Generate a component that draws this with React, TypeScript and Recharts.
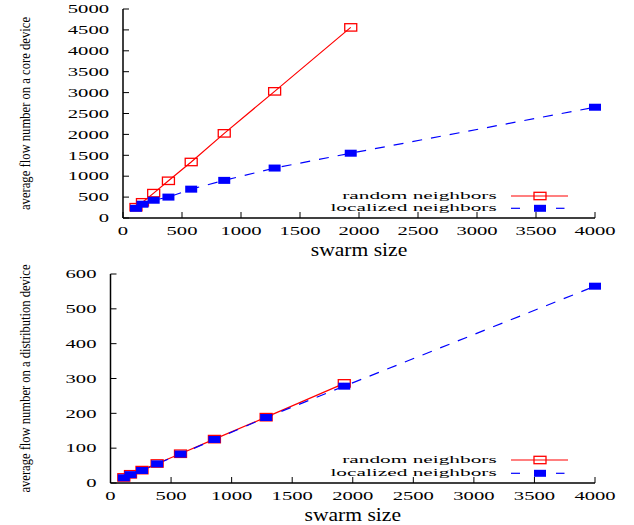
import React from 'react';
import { LineChart, Line, XAxis, YAxis, Legend, Label } from 'recharts';

const swarmSize = [110, 165, 260, 385, 578, 858, 1285, 1930, 4000];
const coreRandom = [258, 375, 595, 890, 1340, 2025, 3030, 4560];
const coreLocalized = [232, 330, 425, 500, 690, 900, 1195, 1550, 2650];
const distRandom = [16, 25, 37, 56, 84, 126, 189, 286];
const distLocalized = [15, 24, 36, 55, 83, 125, 188, 278, 565];

const sizeTicks = [0, 500, 1000, 1500, 2000, 2500, 3000, 3500, 4000];
const coreTicks = [0, 500, 1000, 1500, 2000, 2500, 3000, 3500, 4000, 4500, 5000];
const distTicks = [0, 100, 200, 300, 400, 500, 600];

const coreTitle = 'average flow number on a core device';
const distTitle = 'average flow number on a distribution device';
const xTitle = 'swarm size';
const randomName = 'random neighbors';
const localizedName = 'localized neighbors';

const coreData = swarmSize.map((s, i) => ({
  size: s,
  random: coreRandom[i] ?? null,
  localized: coreLocalized[i] ?? null,
}));
const distData = swarmSize.map((s, i) => ({
  size: s,
  random: distRandom[i] ?? null,
  localized: distLocalized[i] ?? null,
}));

const FONT = 'Liberation Serif';
const RED = '#ff0000';
const BLUE = '#0000ff';

const XTick = (props: any) => {
  const { x, y, payload } = props;
  return (
    <text
      transform={`translate(${x},${y + 17}) scale(1.65,1)`}
      textAnchor="middle"
      fontFamily={FONT}
      fontSize={12.5}
      fill="#000"
    >
      {payload.value}
    </text>
  );
};

const YTick = (props: any) => {
  const { x, y, payload } = props;
  return (
    <text
      transform={`translate(${x},${y + 4.2}) scale(1.65,1)`}
      textAnchor="end"
      fontFamily={FONT}
      fontSize={12.5}
      fill="#000"
    >
      {payload.value}
    </text>
  );
};

const OpenSquare = (props: any) => {
  const { cx, cy, index } = props;
  if (cx == null || cy == null) return <g key={`o${index}`} />;
  return (
    <rect key={`o${index}`} x={cx - 6} y={cy - 3.7} width={12} height={7.4} fill="none" stroke={RED} strokeWidth={1.3} />
  );
};

const FilledSquare = (props: any) => {
  const { cx, cy, index } = props;
  if (cx == null || cy == null) return <g key={`f${index}`} />;
  return <rect key={`f${index}`} x={cx - 6} y={cy - 3.5} width={12} height={7} fill={BLUE} />;
};

function xTitleLabel(props: any) {
  const vb = props.viewBox;
  return (
    <text
      transform={`translate(${vb.x + vb.width / 2},${vb.y + 38}) scale(1.2,1)`}
      textAnchor="middle"
      fontFamily={FONT}
      fontSize={18}
      fill="#000"
    >
      {xTitle}
    </text>
  );
}

function yTitleLabel(text: string, length: number) {
  return (props: any) => {
    const vb = props.viewBox;
    return (
      <text
        transform={`translate(30,${vb.y + vb.height / 2}) rotate(-90) scale(1,1.15)`}
        textAnchor="middle"
        fontFamily={FONT}
        fontSize={12.6}
        textLength={length}
        lengthAdjust="spacingAndGlyphs"
        fill="#000"
      >
        {text}
      </text>
    );
  };
}

function LegendBox({ gap }: { gap: number }) {
  const r1 = 11;
  const r2 = 11 + gap;
  return (
    <svg width={300} height={40} style={{ display: 'block', overflow: 'visible' }}>
      <g fontFamily={FONT} fontSize={10.5} fill="#000">
        <text transform={`translate(196.7,${r1 + 2.8}) scale(2.03,1)`} textAnchor="end">
          {randomName}
        </text>
        <text transform={`translate(196.7,${r2 + 2.8}) scale(2.03,1)`} textAnchor="end">
          {localizedName}
        </text>
      </g>
      <line x1={211} x2={268} y1={r1} y2={r1} stroke={RED} strokeWidth={1.2} />
      <rect x={234} y={r1 - 3.7} width={12} height={7.4} fill="none" stroke={RED} strokeWidth={1.3} />
      <line x1={211} x2={220} y1={r2} y2={r2} stroke={BLUE} strokeWidth={1.2} />
      <rect x={234} y={r2 - 3.5} width={12} height={7} fill={BLUE} />
      <line x1={256} x2={264.5} y1={r2} y2={r2} stroke={BLUE} strokeWidth={1.2} />
    </svg>
  );
}

const axisLine = { stroke: '#000', strokeWidth: 1.5 };
const tickLine = { stroke: '#000', strokeWidth: 1 };

function Panel({
  data,
  height,
  marginTop,
  yWidth,
  xHeight,
  yTicks,
  yMax,
  title,
  titleLength,
  legendTop,
  legendGap,
}: any) {
  return (
    <LineChart
      width={634}
      height={height}
      data={data}
      margin={{ top: marginTop, right: 39, bottom: 0, left: 0 }}
    >
      <XAxis
        xAxisId="bottom"
        dataKey="size"
        type="number"
        domain={[0, 4000]}
        ticks={sizeTicks}
        interval={0}
        height={xHeight}
        axisLine={axisLine}
        tickLine={tickLine}
        tickSize={-6}
        tickMargin={6}
        tick={XTick}
      >
        <Label content={xTitleLabel} />
      </XAxis>
      <XAxis
        xAxisId="top"
        orientation="top"
        dataKey="size"
        type="number"
        domain={[0, 4000]}
        ticks={sizeTicks}
        interval={0}
        height={0}
        axisLine={axisLine}
        tickLine={tickLine}
        tickSize={-6}
        tick={false}
      />
      <YAxis
        yAxisId="left"
        type="number"
        domain={[0, yMax]}
        ticks={yTicks}
        interval={0}
        width={yWidth}
        axisLine={axisLine}
        tickLine={tickLine}
        tickSize={-6}
        tickMargin={20}
        tick={YTick}
      >
        <Label content={yTitleLabel(title, titleLength)} />
      </YAxis>
      <YAxis
        yAxisId="right"
        orientation="right"
        type="number"
        domain={[0, yMax]}
        ticks={yTicks}
        interval={0}
        width={0}
        axisLine={axisLine}
        tickLine={tickLine}
        tickSize={-6}
        tick={false}
      />
      <Legend
        layout="vertical"
        align="center"
        verticalAlign="middle"
        wrapperStyle={{ left: 300, top: legendTop, width: 300, height: 40 }}
        content={() => <LegendBox gap={legendGap} />}
      />
      <Line
        xAxisId="bottom"
        yAxisId="left"
        dataKey="random"
        name={randomName}
        stroke={RED}
        strokeWidth={1.2}
        dot={OpenSquare}
        isAnimationActive={false}
      />
      <Line
        xAxisId="bottom"
        yAxisId="left"
        dataKey="localized"
        name={localizedName}
        stroke={BLUE}
        strokeWidth={1.2}
        strokeDasharray="10 9"
        dot={FilledSquare}
        isAnimationActive={false}
      />
    </LineChart>
  );
}

export default function App() {
  return (
    <div style={{ position: 'absolute', left: 0, top: 0, width: 634, height: 525, background: '#fff' }}>
      <div style={{ position: 'absolute', left: 0, top: 0 }}>
        <Panel
          data={coreData}
          height={262}
          marginTop={9}
          yWidth={123}
          xHeight={44}
          yTicks={coreTicks}
          yMax={5000}
          title={coreTitle}
          titleLength={193}
          legendTop={185}
          legendGap={12.3}
        />
      </div>
      <div style={{ position: 'absolute', left: 0, top: 262 }}>
        <Panel
          data={distData}
          height={263}
          marginTop={12}
          yWidth={110.5}
          xHeight={42}
          yTicks={distTicks}
          yMax={600}
          title={distTitle}
          titleLength={228}
          legendTop={187}
          legendGap={13.3}
        />
      </div>
    </div>
  );
}
